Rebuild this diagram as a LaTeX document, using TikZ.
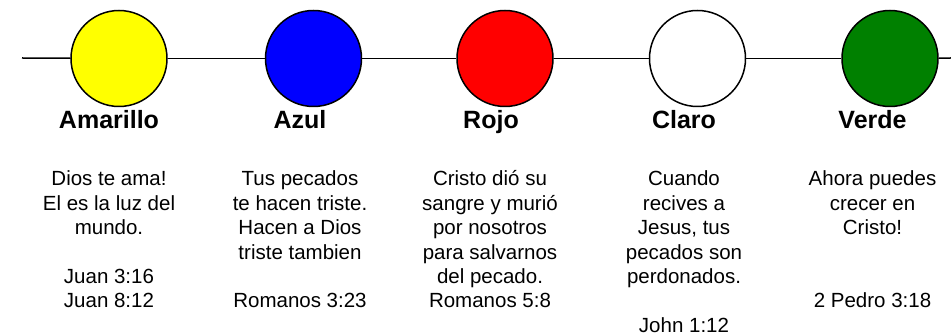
\documentclass[tikz,border=0pt]{standalone}
\usepackage{fontspec}
\setmainfont{Liberation Sans}
\definecolor{cyellow}{HTML}{FFFF00}
\definecolor{cblue}{HTML}{0000FF}
\definecolor{cred}{HTML}{FF0000}
\definecolor{cgreen}{HTML}{008000}
\begin{document}
\begin{tikzpicture}[x=1pt,y=-1pt,
  dot/.style={circle,draw=black,line width=1.5pt,inner sep=0pt,minimum size=96pt},
  link/.style={draw=black,line width=1.5pt},
  title/.style={anchor=base,inner sep=0pt,font=\fontsize{25}{30}\selectfont\bfseries},
  body/.style={anchor=base,inner sep=0pt,align=center,font=\fontsize{20.5}{24.4}\selectfont}]
\useasboundingbox (0,0) rectangle (951,336);
\coordinate (start) at (22,58);
\coordinate (end) at (951,58);
\node[dot,fill=cyellow] (a) at (119,58.5) {};
\node[dot,fill=cblue] (b) at (313.5,58.5) {};
\node[dot,fill=cred] (c) at (505,58.5) {};
\node[dot,fill=white] (d) at (697.5,58.5) {};
\node[dot,fill=cgreen] (e) at (890,58.5) {};
\draw[link] (start) -- (a);
\draw[link] (a) -- (b);
\draw[link] (b) -- (c);
\draw[link] (c) -- (d);
\draw[link] (d) -- (e);
\draw[link] (e) -- (end);
\node[title] (ta) at (109,129) {Amarillo};
\node[title] (tb) at (300,129) {Azul};
\node[title] (tc) at (491,129) {Rojo};
\node[title] (td) at (684,129) {Claro};
\node[title] (te) at (872.5,129) {Verde};
% base anchor = baseline of the last line
\node[body] (xa) at (109,308) {Dios te ama!\\El es la luz del\\mundo.\\[24.4pt]Juan 3:16\\Juan 8:12};
\node[body] (xb) at (300,308) {Tus pecados\\te hacen triste.\\Hacen a Dios\\triste tambien\\[24.4pt]Romanos 3:23};
\node[body] (xc) at (490,308) {Cristo dió su\\sangre y murió\\por nosotros\\para salvarnos\\del pecado.\\Romanos 5:8};
\node[body] (xd) at (684,332.4) {Cuando\\recives a\\Jesus, tus\\pecados son\\perdonados.\\[24.4pt]John 1:12};
\node[body] (xe) at (872.5,308) {Ahora puedes\\crecer en\\Cristo!\\[48.8pt]2 Pedro 3:18};
\end{tikzpicture}
\end{document}
